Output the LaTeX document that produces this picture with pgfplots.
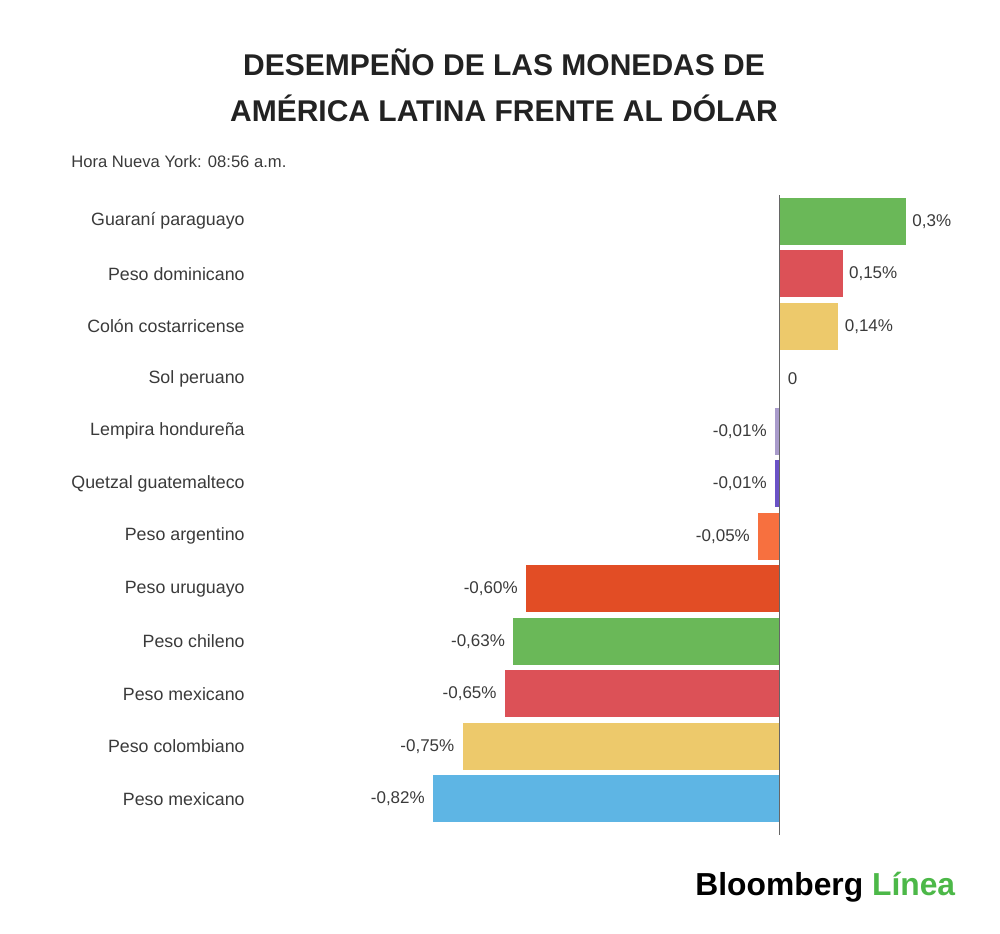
\documentclass[border=0pt]{standalone}
\usepackage{pgfplots}
\pgfplotsset{compat=1.18}
\usepackage{fontspec}
\setmainfont{Liberation Sans}
\definecolor{cgreen}{HTML}{6AB858}
\definecolor{cred}{HTML}{DC5157}
\definecolor{cyellow}{HTML}{EDC96B}
\definecolor{clav}{HTML}{A99BCB}
\definecolor{cpurple}{HTML}{6A52C6}
\definecolor{corange}{HTML}{F7703F}
\definecolor{credor}{HTML}{E24D25}
\definecolor{cblue}{HTML}{5EB5E4}
\definecolor{ctext}{HTML}{3A3A3A}
\definecolor{ctitle}{HTML}{222222}
\definecolor{clogo}{HTML}{4CB848}
\begin{document}
\begin{tikzpicture}
\path (0,0) rectangle (500pt,466.5pt);
% title
\node[font=\fontsize{15}{18}\selectfont\bfseries, text=ctitle] at (252pt,435.5pt) {DESEMPEÑO DE LAS MONEDAS DE};
\node[font=\fontsize{15}{18}\selectfont\bfseries, text=ctitle] at (252pt,412.5pt) {AMÉRICA LATINA FRENTE AL DÓLAR};
\node[font=\fontsize{8.3}{10}\selectfont, text=ctext, anchor=west, inner sep=0pt] at (35.5pt,385.5pt) {Hora Nueva York: 08:56 a.m.};
\node[font=\fontsize{15.9}{18}\selectfont\bfseries, anchor=west, inner sep=0pt] at (347.5pt,23pt) {Bloomberg \textcolor{clogo}{Línea}};
\begin{axis}[
  at={(122.5pt,369pt)}, anchor=north west,
  scale only axis,
  width=330.5pt, height=320pt,
  xmin=-1.2657, xmax=0.3,
  ymin=-0.5, ymax=11.69,
  y dir=reverse,
  xbar,
  bar width=0.895,
  clip=false,
  axis line style={draw=none},
  xtick=\empty,
  ytick={0,1,2,3,4,5,6,7,8,9,10,11},
  yticklabels={Guaraní paraguayo,Peso dominicano,Colón costarricense,Sol peruano,Lempira hondureña,Quetzal guatemalteco,Peso argentino,Peso uruguayo,Peso chileno,Peso mexicano,Peso colombiano,Peso mexicano},
  major tick length=0pt,
  tick style={draw=none},
  y tick label style={anchor=east, inner sep=0pt, font=\fontsize{8.9}{10}\selectfont, text=ctext},
  point meta=explicit symbolic,
  nodes near coords,
  every node near coord/.append style={font=\fontsize{8.5}{10}\selectfont, text=ctext, inner sep=0pt},
  pos/.style={every node near coord/.append style={anchor=west, xshift=3pt}},
  neg/.style={every node near coord/.append style={anchor=east, xshift=-4pt}},
]
\addplot[bar shift=0pt, draw=none, fill=cgreen, pos] coordinates {(0.30,0) [0,3\%]};
\addplot[bar shift=0pt, draw=none, fill=cred, pos] coordinates {(0.15,1) [0,15\%]};
\addplot[bar shift=0pt, draw=none, fill=cyellow, pos] coordinates {(0.14,2) [0,14\%]};
\addplot[bar shift=0pt, draw=none, fill=none, every node near coord/.append style={anchor=west, xshift=4pt}] coordinates {(0,3) [0]};
\addplot[bar shift=0pt, draw=none, fill=clav, neg] coordinates {(-0.01,4) [-0,01\%]};
\addplot[bar shift=0pt, draw=none, fill=cpurple, neg] coordinates {(-0.01,5) [-0,01\%]};
\addplot[bar shift=0pt, draw=none, fill=corange, neg] coordinates {(-0.05,6) [-0,05\%]};
\addplot[bar shift=0pt, draw=none, fill=credor, neg] coordinates {(-0.60,7) [-0,60\%]};
\addplot[bar shift=0pt, draw=none, fill=cgreen, neg] coordinates {(-0.63,8) [-0,63\%]};
\addplot[bar shift=0pt, draw=none, fill=cred, neg] coordinates {(-0.65,9) [-0,65\%]};
\addplot[bar shift=0pt, draw=none, fill=cyellow, neg] coordinates {(-0.75,10) [-0,75\%]};
\addplot[bar shift=0pt, draw=none, fill=cblue, neg] coordinates {(-0.82,11) [-0,82\%]};
\draw[color=gray!80!black, line width=0.5pt] (axis cs:0,-0.5) -- (axis cs:0,11.69);
\end{axis}
\end{tikzpicture}
\end{document}
